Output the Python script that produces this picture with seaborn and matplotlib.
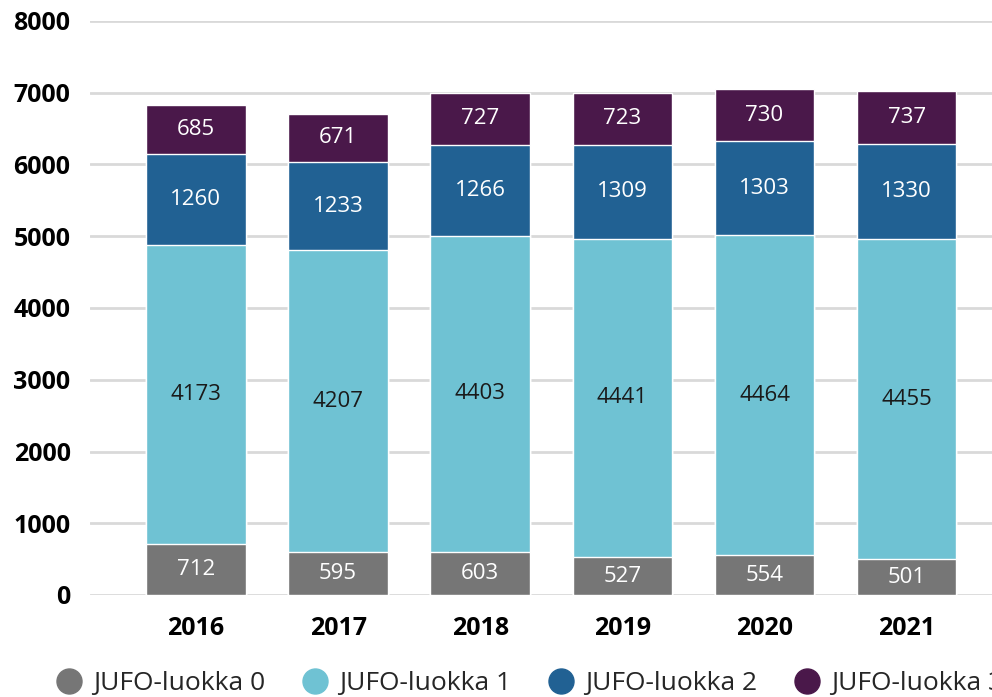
import seaborn as sns
import pandas as pd
import numpy as np
import matplotlib.pyplot as plt
from matplotlib.lines import Line2D

# values
years = ['2016', '2017', '2018', '2019', '2020', '2021']
luokka0 = [712, 595, 603, 527, 554, 501]
luokka1 = [4173, 4207, 4403, 4441, 4464, 4455]
luokka2 = [1260, 1233, 1266, 1309, 1303, 1330]
luokka3 = [685, 671, 727, 723, 730, 737]
series_names = ['JUFO-luokka 0', 'JUFO-luokka 1', 'JUFO-luokka 2', 'JUFO-luokka 3']
colors = ['#767676', '#6fc2d3', '#216193', '#4a184a']
label_colors = ['white', '#1a1a1a', 'white', 'white']

sns.set_style('white')
plt.rcParams['font.family'] = ['Open Sans', 'DejaVu Sans']

series = [luokka0, luokka1, luokka2, luokka3]
cum = np.cumsum(np.array(series), axis=0)

fig = plt.figure(figsize=(9.92, 6.97), dpi=100)
ax = fig.add_axes([90 / 992, 102 / 697, 1 - 90 / 992, 574 / 697])

# stacked bars: draw cumulative totals from top down so each layer covers the next
for i in range(len(series) - 1, -1, -1):
    df = pd.DataFrame({'year': years, 'value': cum[i]})
    sns.barplot(data=df, x='year', y='value', color=colors[i], width=0.7,
                edgecolor='white', linewidth=1, saturation=1, ax=ax, zorder=3)

# segment labels
for i, vals in enumerate(series):
    bottoms = cum[i] - np.array(vals)
    for j, v in enumerate(vals):
        ax.text(j, bottoms[j] + v / 2, str(v), ha='center', va='center',
                color=label_colors[i], fontsize=16,
                fontweight='medium' if i == 1 else 'normal', zorder=4)

ax.set_ylim(0, 8000)
ax.set_xlim(-0.745, 5.6)
ax.set_yticks(range(0, 8001, 1000))
ax.yaxis.grid(True, color='#d9d9d9', linewidth=2, zorder=0)
ax.set_axisbelow(True)
for s in ax.spines.values():
    s.set_visible(False)
ax.set_xlabel('')
ax.set_ylabel('')
ax.tick_params(axis='both', length=0, labelsize=18)
ax.tick_params(axis='y', pad=14)
ax.tick_params(axis='x', pad=15)
for lab in ax.get_xticklabels() + ax.get_yticklabels():
    lab.set_fontweight('bold')
    lab.set_color('black')

handles = [Line2D([], [], marker='o', linestyle='', markersize=18,
                  markerfacecolor=c, markeredgecolor=c) for c in colors]
# last entry runs past the right edge, as in the reference
fig.legend(handles, series_names, loc='lower left', bbox_to_anchor=(0.03, -0.033),
           ncol=4, frameon=False, fontsize=19, handletextpad=0.3,
           columnspacing=1.3, handlelength=1.2)

fig.savefig('out.png', dpi=100)
